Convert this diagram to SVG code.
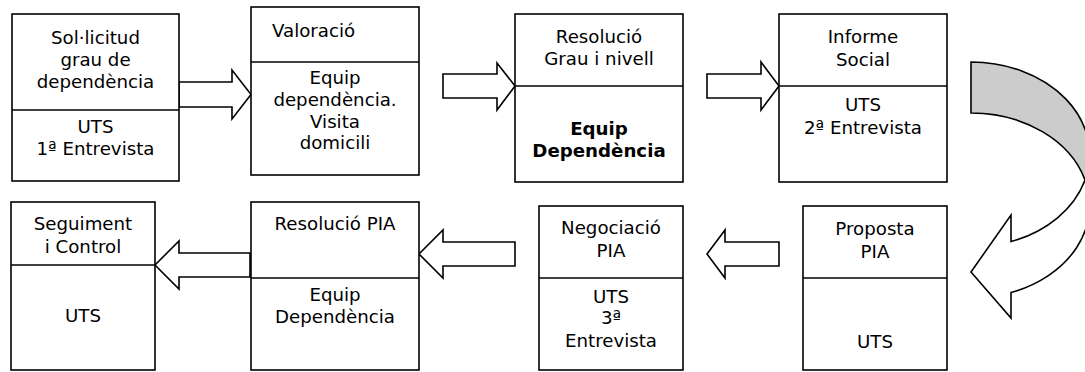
<svg xmlns="http://www.w3.org/2000/svg" width="1085" height="372" viewBox="0 0 1085 372">
<style>
  .box { fill: #ffffff; stroke: #000000; stroke-width: 1.6; }
  .div { stroke: #000000; stroke-width: 1.6; }
  .arrow { fill: #ffffff; stroke: #000000; stroke-width: 1.6; stroke-linejoin: miter; }
  .back { fill: #cccccc; stroke: #000000; stroke-width: 1.6; }
  text { font-family: "DejaVu Sans", Verdana, sans-serif; font-size: 18.2px; fill: #000000; text-anchor: middle; }
  .b { font-weight: bold; }
  .l { text-anchor: start; }
</style>
<rect width="1085" height="372" fill="#ffffff"/>

<g id="connectors">
  <path class="arrow" d="M179,82 L232,82 L232,70 L251,94.5 L232,119 L232,107 L179,107 Z"/>
  <path class="arrow" d="M443,74 L497,74 L497,63 L515,86 L497,110 L497,98 L443,98 Z"/>
  <path class="arrow" d="M707,74 L761,74 L761,62 L779,86 L761,110 L761,98 L707,98 Z"/>
  <path class="back" d="M971,62 A118.6,92.5 0 0 1 1085,180 A118.6,92.5 0 0 0 971,113 Z"/>
  <path class="arrow" d="M1085,180 A118.6,92.5 0 0 1 1011,292.6 L1011,318 L971,272 L1011,215 L1011,241.6 A118.6,92.5 0 0 0 1085,180 Z"/>
  <path class="arrow" d="M779,242 L725,242 L725,230 L707,254 L725,278 L725,266 L779,266 Z"/>
  <path class="arrow" d="M515,242 L443,242 L443,230 L419,254 L443,278 L443,266 L515,266 Z"/>
  <path class="arrow" d="M250,253 L179,253 L179,241 L155,265 L179,289 L179,277 L250,277 Z"/>
</g>

<g id="n1">
  <rect class="box" x="12" y="14" width="167" height="167"/>
  <line class="div" x1="12" y1="110" x2="179" y2="110"/>
  <text x="95.5" y="44">Sol·licitud</text>
  <text x="95.5" y="66">grau de</text>
  <text x="95.5" y="88">dependència</text>
  <text x="95.5" y="133">UTS</text>
  <text x="95.5" y="155">1ª Entrevista</text>
</g>

<g id="n2">
  <rect class="box" x="251" y="7" width="168" height="168"/>
  <line class="div" x1="251" y1="62" x2="419" y2="62"/>
  <text class="l" x="272" y="37">Valoració</text>
  <text x="335" y="83.5">Equip</text>
  <text x="335" y="105.5">dependència.</text>
  <text x="335" y="127.5">Visita</text>
  <text x="335" y="149">domicili</text>
</g>

<g id="n3">
  <rect class="box" x="515" y="14" width="168" height="168"/>
  <line class="div" x1="515" y1="86" x2="683" y2="86"/>
  <text x="599" y="43">Resolució</text>
  <text x="599" y="65">Grau i nivell</text>
  <text class="b" x="599" y="135">Equip</text>
  <text class="b" x="599" y="157">Dependència</text>
</g>

<g id="n4">
  <rect class="box" x="779" y="14" width="168" height="168"/>
  <line class="div" x1="779" y1="86" x2="947" y2="86"/>
  <text x="863" y="43">Informe</text>
  <text x="863" y="66">Social</text>
  <text x="863" y="111">UTS</text>
  <text x="863" y="134">2ª Entrevista</text>
</g>

<g id="n5">
  <rect class="box" x="803" y="206" width="144" height="164"/>
  <line class="div" x1="803" y1="278" x2="947" y2="278"/>
  <text x="875" y="235">Proposta</text>
  <text x="875" y="258">PIA</text>
  <text x="875" y="348">UTS</text>
</g>

<g id="n6">
  <rect class="box" x="539" y="206" width="144" height="164"/>
  <line class="div" x1="539" y1="278" x2="683" y2="278"/>
  <text x="611" y="234">Negociació</text>
  <text x="611" y="257">PIA</text>
  <text x="611" y="303">UTS</text>
  <text x="611" y="324">3ª</text>
  <text x="611" y="347">Entrevista</text>
</g>

<g id="n7">
  <rect class="box" x="251" y="202" width="168" height="168"/>
  <line class="div" x1="251" y1="278" x2="419" y2="278"/>
  <text x="335" y="230">Resolució PIA</text>
  <text x="335" y="301">Equip</text>
  <text x="335" y="323">Dependència</text>
</g>

<g id="n8">
  <rect class="box" x="11" y="202" width="144" height="168"/>
  <line class="div" x1="11" y1="265" x2="155" y2="265"/>
  <text x="83" y="230">Seguiment</text>
  <text x="83" y="253">i Control</text>
  <text x="83" y="322">UTS</text>
</g>
</svg>
